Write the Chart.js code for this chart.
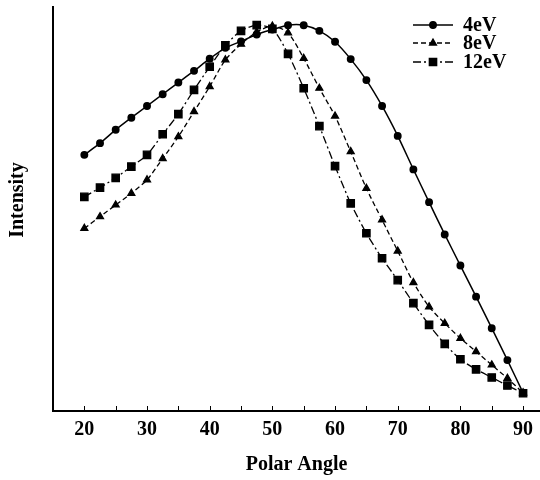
<!DOCTYPE html>
<html>
<head>
<meta charset="utf-8">
<script src="https://cdn.jsdelivr.net/npm/chart.js@4/dist/chart.umd.min.js"></script>
<style>
  html, body { margin: 0; padding: 0; background: #fff; }
  #wrap { width: 540px; height: 480px; }
</style>
</head>
<body>
<div id="wrap"><canvas id="intensityChart" width="540" height="480"></canvas></div>
<script>
// polar angles, every 2.5 degrees
var angles = [20, 22.5, 25, 27.5, 30, 32.5, 35, 37.5, 40, 42.5, 45, 47.5, 50, 52.5, 55,
              57.5, 60, 62.5, 65, 67.5, 70, 72.5, 75, 77.5, 80, 82.5, 85, 87.5, 90];

var ev4 = [63.4, 66.3, 69.6, 72.6, 75.5, 78.4, 81.3, 84.2, 87.2, 89.9, 91.5, 93.2, 94.4, 95.5, 95.5,
           94.1, 91.4, 87.1, 81.9, 75.5, 68.1, 59.8, 51.7, 43.7, 36.0, 28.3, 20.5, 12.6, 4.5];
var ev8 = [45.2, 48.1, 51.0, 53.9, 57.2, 62.5, 67.9, 74.1, 80.3, 86.9, 90.8, 93.8, 95.3, 93.6, 87.3,
           79.9, 73.0, 64.2, 55.1, 47.3, 39.6, 31.8, 25.8, 21.7, 18.0, 14.7, 11.4, 8.1, 4.5];
var ev12 = [53.0, 55.3, 57.7, 60.5, 63.4, 68.5, 73.5, 79.5, 85.2, 90.5, 94.1, 95.5, 94.6, 88.4, 79.9,
            70.5, 60.6, 51.4, 44.0, 37.8, 32.4, 26.7, 21.3, 16.6, 12.8, 10.3, 8.3, 6.3, 4.4];

var seriesNames = ["4eV", "8eV", "12eV"];
var xLabels = [20, 30, 40, 50, 60, 70, 80, 90];

var serif = "'Liberation Serif', 'Times New Roman', serif";

function toPoints(ys) {
    return angles.map(function (a, i) { return { x: a, y: ys[i] }; });
}

// small tick marks pointing into the plot
var innerTicks = {
    id: 'innerTicks',
    afterDraw: function (chart) {
        var ctx = chart.ctx;
        var xs = chart.scales.x;
        var bottom = chart.chartArea.bottom;
        ctx.save();
        ctx.strokeStyle = '#000';
        ctx.lineWidth = 1;
        xs.ticks.forEach(function (t) {
            if (t.value % 5 !== 0) return;
            var px = Math.round(xs.getPixelForValue(t.value)) + 0.5;
            ctx.beginPath();
            ctx.moveTo(px, bottom);
            ctx.lineTo(px, bottom - 5);
            ctx.stroke();
        });
        ctx.restore();
    }
};

// y axis title, sits a bit above the middle of the axis
var yTitle = {
    id: 'yTitle',
    afterDraw: function (chart) {
        var ctx = chart.ctx;
        ctx.save();
        ctx.translate(18, 200);
        ctx.rotate(-Math.PI / 2);
        ctx.font = 'bold 20px ' + serif;
        ctx.fillStyle = '#000';
        ctx.textAlign = 'center';
        ctx.textBaseline = 'middle';
        ctx.fillText('Intensity', 0, 0);
        ctx.restore();
    }
};

// legend with line + marker samples
var lineLegend = {
    id: 'lineLegend',
    afterDraw: function (chart) {
        var ctx = chart.ctx;
        var x0 = 413, x1 = 453, tx = 463;
        var rows = [25, 43, 62];
        ctx.save();
        chart.data.datasets.forEach(function (ds, i) {
            var y = rows[i];
            ctx.strokeStyle = '#000';
            ctx.lineWidth = ds.borderWidth;
            ctx.setLineDash(ds.borderDash || []);
            ctx.beginPath();
            ctx.moveTo(x0, y);
            ctx.lineTo(x1, y);
            ctx.stroke();
            ctx.setLineDash([]);
            ctx.fillStyle = '#000';
            Chart.helpers.drawPoint(ctx, {
                pointStyle: ds.pointStyle,
                radius: ds.pointRadius,
                rotation: 0,
                borderWidth: 1
            }, (x0 + x1) / 2, y);
            ctx.fill();
            ctx.font = 'bold 20px ' + serif;
            ctx.textBaseline = 'middle';
            ctx.textAlign = 'left';
            ctx.fillText(ds.label, tx, y + 1);
        });
        ctx.restore();
    }
};

var ctx = document.getElementById('intensityChart').getContext('2d');

var myChart = new Chart(ctx, {
    type: 'line',
    data: {
        datasets: [
            {
                label: seriesNames[0],
                data: toPoints(ev4),
                borderColor: '#000',
                backgroundColor: '#000',
                borderWidth: 1.5,
                pointStyle: 'circle',
                pointRadius: 3.2,
                tension: 0.25
            },
            {
                label: seriesNames[1],
                data: toPoints(ev8),
                borderColor: '#000',
                backgroundColor: '#000',
                borderWidth: 1.3,
                borderDash: [5, 3],
                pointStyle: 'triangle',
                pointRadius: 4,
                tension: 0.25
            },
            {
                label: seriesNames[2],
                data: toPoints(ev12),
                borderColor: '#000',
                backgroundColor: '#000',
                borderWidth: 1.3,
                borderDash: [8, 3, 2, 3],
                pointStyle: 'rect',
                pointRadius: 5.2,
                tension: 0.25
            }
        ]
    },
    options: {
        responsive: false,
        animation: false,
        layout: { autoPadding: false, padding: { top: 7, right: 0, left: 0, bottom: 0 } },
        plugins: {
            legend: { display: false },
            tooltip: { enabled: false }
        },
        scales: {
            x: {
                type: 'linear',
                min: 15,
                max: 92.7,
                grid: { display: false, drawTicks: false },
                border: { display: true, color: '#000', width: 2 },
                ticks: {
                    stepSize: 5,
                    includeBounds: false,
                    autoSkip: false,
                    maxRotation: 0,
                    padding: 7,
                    color: '#000',
                    font: { family: serif, size: 20, weight: 'bold' },
                    callback: function (v) {
                        return xLabels.indexOf(v) >= 0 ? String(v) : '';
                    }
                },
                title: {
                    display: true,
                    text: 'Polar Angle',
                    color: '#000',
                    padding: { top: 0, bottom: 3 },
                    font: { family: serif, size: 20, weight: 'bold' }
                },
                afterFit: function (scale) {
                    scale.height = 69;
                    scale.paddingLeft = 0;
                    scale.paddingRight = 0;
                }
            },
            y: {
                min: 0,
                max: 100,
                grid: { display: false, drawTicks: false },
                border: { display: true, color: '#000', width: 2 },
                ticks: { display: false },
                afterFit: function (scale) {
                    scale.width = 53;
                    scale.paddingTop = 0;
                    scale.paddingBottom = 0;
                }
            }
        }
    },
    plugins: [innerTicks, yTitle, lineLegend]
});
</script>
</body>
</html>
